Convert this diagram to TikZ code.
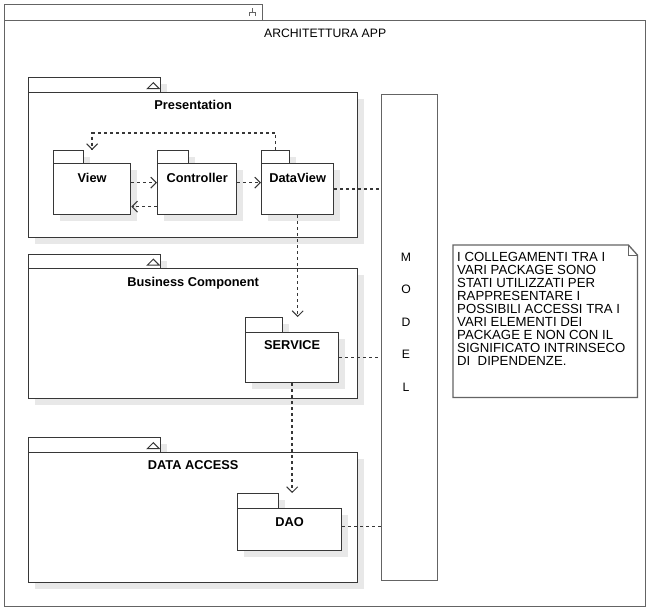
\documentclass[tikz,border=0pt]{standalone}
\usepackage{fontspec}
\setmainfont{Liberation Sans}
\usetikzlibrary{arrows.meta, positioning, calc, shadows}
\definecolor{edge}{RGB}{55,55,55}
\definecolor{greyedge}{RGB}{100,100,100}
\definecolor{shade}{RGB}{232,232,232}

\tikzset{
  pkgbox/.style={draw=edge, fill=white, line width=1.3pt, anchor=north west, inner sep=0pt},
  pkgshadow/.style={drop shadow={shadow xshift=6pt, shadow yshift=-6pt, fill=shade, opacity=1}},
  pkgtitle/.style={font=\bfseries\fontsize{12.8}{15}\selectfont, anchor=base, inner sep=0pt},
  plaintext/.style={font=\fontsize{12.2}{14}\selectfont, anchor=base, inner sep=0pt},
  dep/.style={draw=edge, line width=1.4pt, dash pattern=on 3pt off 3pt, -{Straight Barb[length=5.5pt,width=11pt,line width=1pt]}},
  link/.style={draw=edge, line width=1.4pt, dash pattern=on 3pt off 3pt}
}

\begin{document}
\begin{tikzpicture}[x=1pt, y=-1pt]
  \useasboundingbox (0,0) rectangle (652,614);

  % Outer package
  \node[pkgbox, draw=greyedge, minimum width=258pt, minimum height=16pt] (apptab) at (4,4) {};
  \node[pkgbox, draw=greyedge, minimum width=641pt, minimum height=586pt] (app) at (4,20) {};
  \draw[greyedge, line width=1pt] (249,16) -- (249,12) -- (255,12) -- (255,16) (252,12) -- (252,8);
  \node[plaintext] (apptitle) at ($(app.north)+(0,17.3)$) {ARCHITETTURA APP};

  % Presentation
  \node[pkgbox, pkgshadow, minimum width=132pt, minimum height=15pt] (prestab) at (28,77) {};
  \node[pkgbox, pkgshadow, minimum width=329pt, minimum height=145pt] (pres) at (28,92) {};
  \draw[edge, line width=1pt] ($(prestab.east)+(-14,3.5)$) -- ++(12,0) -- ++(-6,-6) -- cycle;
  \node[pkgtitle] (prestitle) at ($(pres.north)+(0,17.5)$) {Presentation};

  \node[pkgbox, pkgshadow, minimum width=30pt, minimum height=13pt] (viewtab) at (53,150) {};
  \node[pkgbox, pkgshadow, minimum width=77pt, minimum height=51pt] (view) at (53,163) {};
  \node[pkgtitle] (viewname) at ($(view.north)+(0,19.5)$) {View};

  \node[pkgbox, pkgshadow, minimum width=31pt, minimum height=13pt] (ctrltab) at (157,150) {};
  \node[pkgbox, pkgshadow, minimum width=79pt, minimum height=51pt] (ctrl) at (157,163) {};
  \node[pkgtitle] (ctrlname) at ($(ctrl.north)+(0,19.5)$) {Controller};

  \node[pkgbox, pkgshadow, minimum width=28pt, minimum height=13pt] (dviewtab) at (261,150) {};
  \node[pkgbox, pkgshadow, minimum width=72pt, minimum height=51pt] (dview) at (261,163) {};
  \node[pkgtitle] (dviewname) at ($(dview.north)+(0,19.5)$) {DataView};

  % Business Component
  \node[pkgbox, pkgshadow, minimum width=132pt, minimum height=14pt] (bustab) at (28,254) {};
  \node[pkgbox, pkgshadow, minimum width=329pt, minimum height=130pt] (bus) at (28,268) {};
  \draw[edge, line width=1pt] ($(bustab.east)+(-14,3.5)$) -- ++(12,0) -- ++(-6,-6) -- cycle;
  \node[pkgtitle] (bustitle) at ($(bus.north)+(0,18)$) {Business Component};

  \node[pkgbox, pkgshadow, minimum width=37pt, minimum height=15pt] (servtab) at (245,317) {};
  \node[pkgbox, pkgshadow, minimum width=93pt, minimum height=50pt] (serv) at (245,332) {};
  \node[pkgtitle] (servname) at ($(serv.north)+(0,17.5)$) {SERVICE};

  % Data access
  \node[pkgbox, pkgshadow, minimum width=132pt, minimum height=15pt] (datatab) at (28,437) {};
  \node[pkgbox, pkgshadow, minimum width=329pt, minimum height=130pt] (data) at (28,452) {};
  \draw[edge, line width=1pt] ($(datatab.east)+(-14,3.5)$) -- ++(12,0) -- ++(-6,-6) -- cycle;
  \node[pkgtitle] (datatitle) at ($(data.north)+(0,17.3)$) {DATA ACCESS};

  \node[pkgbox, pkgshadow, minimum width=41pt, minimum height=15pt] (daotab) at (237,493) {};
  \node[pkgbox, pkgshadow, minimum width=104pt, minimum height=42pt] (dao) at (237,508) {};
  \node[pkgtitle] (daoname) at ($(dao.north)+(0,18.5)$) {DAO};

  % Model
  \node[pkgbox, draw=greyedge, minimum width=56pt, minimum height=486pt] (model) at (381,94) {};
  \node[font=\fontsize{12.2}{32.5}\selectfont, align=center, inner sep=0pt] (modeltxt) at (406,322) {M\\O\\D\\E\\L};

  % Note
  \node[anchor=north west, inner sep=0pt, minimum width=184pt, minimum height=152pt] (note) at (453,245) {};
  \draw[greyedge, line width=1.3pt] (note.north west) -- ($(note.north east)+(-9,0)$) -- ($(note.north east)+(0,10)$)
    -- (note.south east) -- (note.south west) -- cycle;
  \draw[greyedge, line width=1pt] ($(note.north east)+(-9,0)$) -- ($(note.north east)+(-9,10)$) -- ($(note.north east)+(0,10)$);
  \node[anchor=north west, inner sep=0pt, align=left, font=\fontsize{13.2}{13}\selectfont] (notetxt) at (457,252.5)
    {I COLLEGAMENTI TRA I\\VARI PACKAGE SONO\\STATI UTILIZZATI PER\\RAPPRESENTARE I\\POSSIBILI ACCESSI TRA I\\VARI ELEMENTI DEI\\PACKAGE E NON CON IL\\SIGNIFICATO INTRINSECO\\DI\ \ DIPENDENZE.};

  % Connectors
  \draw[dep] ([yshift=6.5pt]view.east) -- ([yshift=6.5pt]ctrl.west);
  \draw[dep] ([yshift=-17.5pt]ctrl.west) -- ([yshift=-17.5pt]view.east);
  \draw[dep] ([yshift=6.5pt]ctrl.east) -- ([yshift=6.5pt]dview.west);
  \draw[dep] (dviewtab.north) |- ($(view.north)+(0,-30)$) -- (view.north |- viewtab.north);
  \draw[link] (dview.east) -- (dview.east -| model.west);
  \draw[dep] (dview.south) -- (dview.south |- servtab.north);
  \draw[link] (serv.east) -- (serv.east -| model.west);
  \draw[dep] (serv.south) -- (serv.south |- daotab.north);
  \draw[link] ([yshift=3pt]dao.east) -- ([yshift=3pt]dao.east -| model.west);
\end{tikzpicture}
\end{document}
